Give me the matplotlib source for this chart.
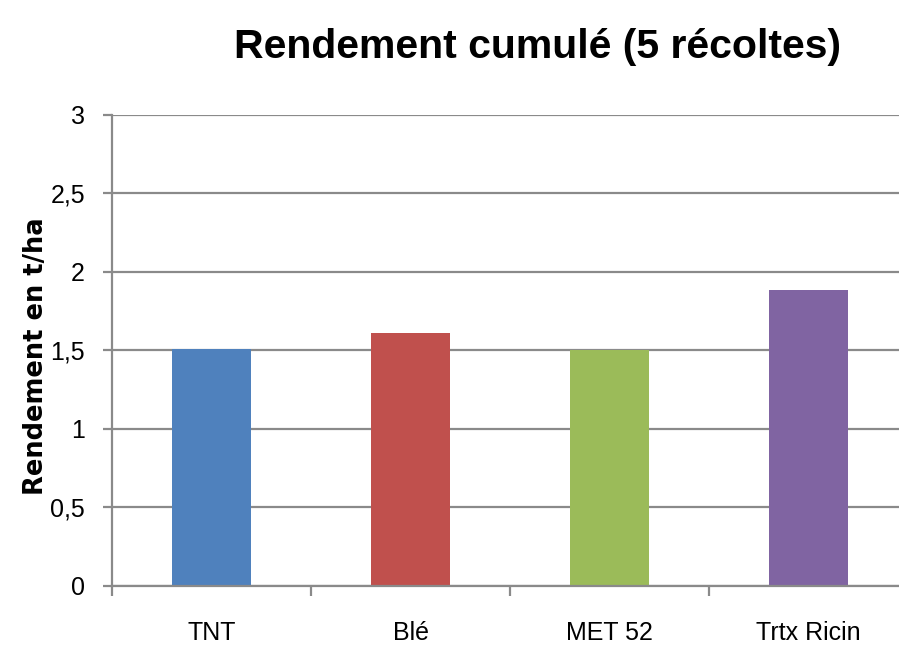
import matplotlib
matplotlib.use("Agg")
import matplotlib.pyplot as plt
from matplotlib import font_manager
from matplotlib.ticker import FixedLocator, FuncFormatter

# Data
categories = ["TNT", "Blé", "MET 52", "Trtx Ricin"]
values = [1.51, 1.61, 1.50, 1.885]
colors = ["#4F81BD", "#C0504D", "#9BBB59", "#8064A2"]
yticks = [0, 0.5, 1, 1.5, 2, 2.5, 3]

# Narrow font if present, otherwise plain Liberation Sans
names = {f.name for f in font_manager.fontManager.ttflist}
narrow = "Liberation Sans Narrow" if "Liberation Sans Narrow" in names else "Liberation Sans"
is_narrow = narrow.endswith("Narrow")
tick_size = 20 if is_narrow else 18
title_size = 36 if is_narrow else 29.5

fig = plt.figure(figsize=(8.99, 6.54), dpi=100)
ax = fig.add_axes([0.1246, 0.104, 0.8854, 0.7202])

x = list(range(len(categories)))
ax.bar(x, values, width=0.4, color=colors, zorder=3)

ax.set_xlim(-0.5, len(categories) - 0.5)
ax.set_ylim(0, 3)

# y axis: comma decimals, gridlines
ax.set_yticks(yticks)
ax.yaxis.set_major_formatter(FuncFormatter(lambda v, _: f"{v:g}".replace(".", ",")))
ax.grid(axis="y", color="#8a8a8a", linewidth=1.6, zorder=0)
ax.tick_params(axis="y", length=6.5, width=1.6, color="#8a8a8a", pad=13,
               labelsize=tick_size)

# x axis: tick marks between categories, labels centred under bars
ax.xaxis.set_major_locator(FixedLocator([i - 0.5 for i in range(len(categories) + 1)]))
ax.xaxis.set_minor_locator(FixedLocator(x))
ax.set_xticklabels([], minor=False)
ax.set_xticklabels(categories, minor=True)
ax.tick_params(axis="x", which="major", length=7, width=1.6, color="#8a8a8a")
ax.tick_params(axis="x", which="minor", length=0, pad=25, labelsize=tick_size)

for lbl in ax.get_xticklabels(minor=True) + ax.get_yticklabels():
    lbl.set_fontfamily(narrow)

for s in ["top", "right"]:
    ax.spines[s].set_visible(False)
for s in ["left", "bottom"]:
    ax.spines[s].set_color("#8a8a8a")
    ax.spines[s].set_linewidth(1.6)
    ax.spines[s].set_zorder(4)

# Title and y label
fig.text(537 / 899, 1 - 58 / 654, "Rendement cumulé (5 récoltes)",
         ha="center", va="baseline", fontsize=title_size, fontweight="bold",
         fontfamily=narrow)
fig.text(36 / 899, 1 - 356 / 654, "Rendement en t/ha", rotation=90,
         ha="center", va="center", fontsize=18.5, fontweight="bold",
         fontfamily="DejaVu Sans")

fig.savefig("out.png", dpi=100)
